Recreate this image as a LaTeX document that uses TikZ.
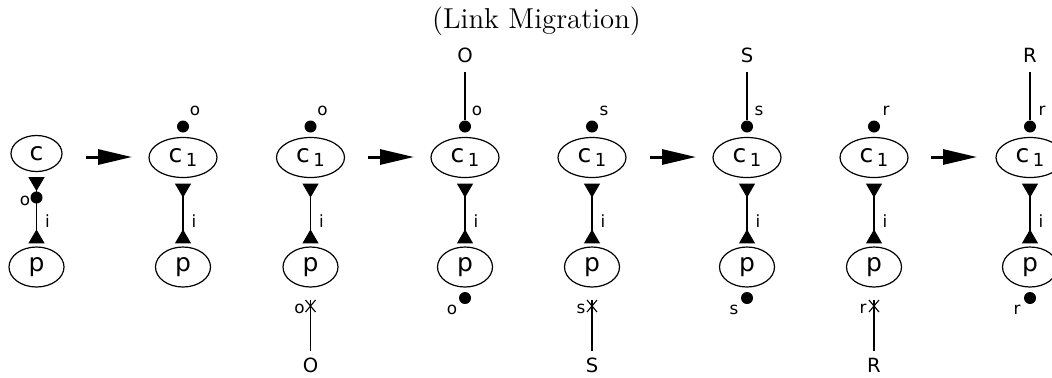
\documentclass[tikz,border=0pt]{standalone}
\usepackage{fontspec}
\newfontfamily\dv{DejaVu Sans}
\usetikzlibrary{shapes.geometric,arrows.meta}
\newcommand{\cone}{c\kern1.8pt\raisebox{-2pt}{\fontsize{9}{9}\selectfont 1}}
\begin{document}
\begin{tikzpicture}[x=0.5pt,y=-0.5pt,
 every node/.style={inner sep=0pt},
 ell/.style={draw, ellipse, line width=0.6pt, font=\dv\fontsize{12.5}{12.5}\selectfont},
 cell/.style={ell, minimum width=34pt, minimum height=20pt},
 pell/.style={ell, minimum width=27.5pt, minimum height=20pt},
 port/.style={circle, fill, minimum size=6pt},
 lab/.style={font=\dv\fontsize{8.4}{9}\selectfont},
 ext/.style={font=\dv\fontsize{9.8}{10}\selectfont},
 link/.style={line width=0.55pt, {Triangle[reversed,length=7pt,width=8pt]}-{Triangle[reversed,length=7pt,width=8pt]}, shorten <=2.75pt, shorten >=1.5pt},
 wire/.style={line width=0.55pt},
 trans/.style={line width=1.5pt, -{Triangle[length=17pt,width=7.5pt]}},
]
\useasboundingbox (0,0) rectangle (1052,377);
\node[font=\fontsize{14.4}{17}\selectfont] (title) at (536.5,21) {(Link Migration)};

% transitions
\coordinate (a1s) at (86,157);  \coordinate (a1e) at (132,157);
\coordinate (a2s) at (368,157); \coordinate (a2e) at (414,157);
\coordinate (a3s) at (650,157); \coordinate (a3e) at (696,157);
\coordinate (a4s) at (931,157); \coordinate (a4e) at (977,157);
\foreach \i in {1,2,3,4} \draw[trans] (a\i s) -- (a\i e);

% panel 1
\node[ell, minimum width=25.5pt, minimum height=18pt] (c1) at (36.5,153.5) {c};
\node[pell] (p1) at (36.5,267) {p};
\draw[link, shorten <=2.5pt] (c1) -- (p1);
\node[port] (d1) at (36.5,197.5) {};
\node[lab] (l1o) at (25,201) {o};
\node[lab] (l1i) at (47.5,221) {i};

% panels 2..8 common parts
\foreach \n/\x/\t in {2/183/o,3/310.5/o,4/465/o,5/592/s,6/747/s,7/874/r,8/1030/r}{
  \node[cell] (c\n) at (\x,157.5) {\cone};
  \node[pell] (p\n) at (\x,267) {p};
  \draw[link] (c\n) -- (p\n);
  \node[port] (t\n) at (\x,126.5) {};
  \node[lab] (lt\n) at (\x+12,111) {\t};
  \node[lab] (li\n) at (\x+11,221) {i};
}

% panels with outside wire on top and dot below (4,6,8)
\foreach \n/\x/\t/\T in {4/465/o/O,6/747/s/S,8/1030/r/R}{
  \node[ext] (E\n) at (\x,55) {\T};
  \draw[wire, shorten >=4.5pt] (t\n) -- (E\n);
  \node[port] (b\n) at (\x,298) {};
  \node[lab] (lb\n) at (\x-13,310) {\t};
}

% panels with broken wire below (3,5,7)
\foreach \n/\x/\t/\T in {3/310.5/o/O,5/592/s/S,7/874/r/R}{
  \coordinate (s\n) at (\x,306);
  \coordinate (st\n) at (\x,300);
  \node[ext] (E\n) at (\x,365) {\T};
  \draw[wire, shorten >=3pt] (st\n) -- (E\n);
  \draw[wire] (s\n) ++(-5,-6) -- ++(10,12) ++(0,-12) -- ++(-10,12);
  \node[lab] (lb\n) at (\x-11,309) {\t};
}
\end{tikzpicture}
\end{document}
